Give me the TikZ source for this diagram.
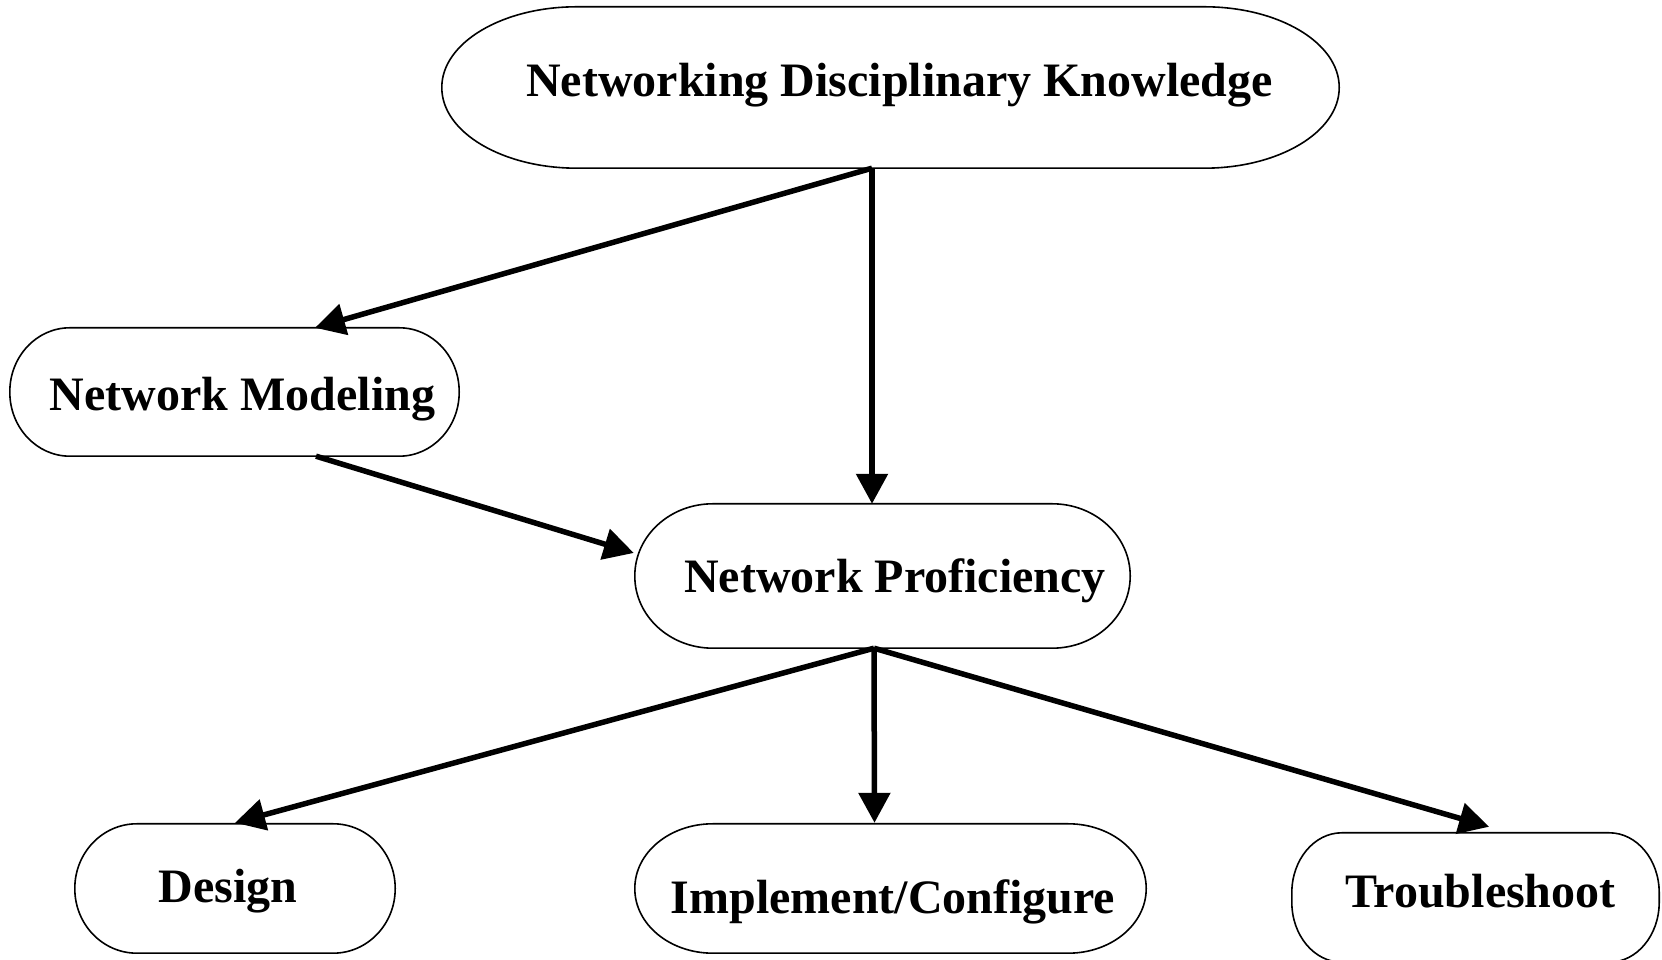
\documentclass[tikz,border=0pt]{standalone}
\usepackage{fontspec}
\setmainfont{Liberation Serif}
\usetikzlibrary{arrows.meta,calc}
\newcommand{\capsule}[3]{%
 \draw[boxline] ($(#1.north west)+(#2pt,0pt)$) -- ($(#1.north east)+(-#2pt,0pt)$)
   arc[start angle=90,end angle=0,x radius=#2pt,y radius=#3pt]
   -- ($(#1.south east)+(0pt,#3pt)$)
   arc[start angle=0,end angle=-90,x radius=#2pt,y radius=#3pt]
   -- ($(#1.south west)+(#2pt,0pt)$)
   arc[start angle=270,end angle=180,x radius=#2pt,y radius=#3pt]
   -- ($(#1.north west)+(0pt,-#3pt)$)
   arc[start angle=180,end angle=90,x radius=#2pt,y radius=#3pt]
   -- cycle;}
\tikzset{
  box/.style={rectangle, inner sep=0pt, text depth=0pt,
    font=\fontsize{48pt}{58pt}\selectfont\bfseries},
  boxline/.style={line width=1.6pt, black},
  conn/.style={line width=5.5pt, -{Triangle[length=30pt,width=31pt]}}
}
\begin{document}
\begin{tikzpicture}[x=1pt,y=1pt]
\useasboundingbox (0,0) rectangle (1662,960);
\fill[white] (0,0) rectangle (1662,960);
\node[box, minimum width=897pt, minimum height=161pt, text height=19pt] (top) at (890.5,872.5) {\hspace*{18pt}Networking Disciplinary Knowledge};
\node[box, minimum width=449pt, minimum height=128pt, text height=37.4pt] (nm) at (234.5,568) {\hspace*{16pt}Network Modeling};
\node[box, minimum width=495pt, minimum height=144pt, text height=33.4pt] (np) at (882.5,384) {\hspace*{25pt}Network Proficiency};
\node[box, minimum width=320pt, minimum height=129pt, text height=28.4pt] (des) at (235,71.5) {Design\hspace*{14pt}};
\node[box, minimum width=511pt, minimum height=129pt, text height=49.6pt] (imp) at (890.5,71.5) {\hspace*{5pt}Implement/Configure};
\node[box, minimum width=367pt, minimum height=129pt, text height=20.4pt] (trb) at (1475.5,62.5) {\hspace*{10pt}Troubleshoot};
\capsule{top}{135}{80.5}
\capsule{nm}{60}{64}
\capsule{np}{78}{72}
\capsule{des}{62}{64.5}
\capsule{imp}{78}{64.5}
\capsule{trb}{50}{60}
\coordinate (topout) at ($(top.south)+(-18.5pt,0pt)$);
\coordinate (npout) at ($(np.south)+(-8.5pt,0pt)$);
\draw[conn] (topout) -- ($(nm.north)+(80.5pt,0pt)$);
\draw[conn] (topout) -- ($(np.north)+(-10.5pt,0pt)$);
\draw[conn] ($(nm.south)+(81.5pt,0pt)$) -- ($(np.west)+(-1pt,23pt)$);
\draw[conn] (npout) -- ($(des.north)+(0pt,1pt)$);
\draw[conn] (npout) -- ($(imp.north)+(-16pt,1pt)$);
\draw[conn] (npout) -- ($(trb.north)+(13.5pt,6pt)$);
\end{tikzpicture}
\end{document}
